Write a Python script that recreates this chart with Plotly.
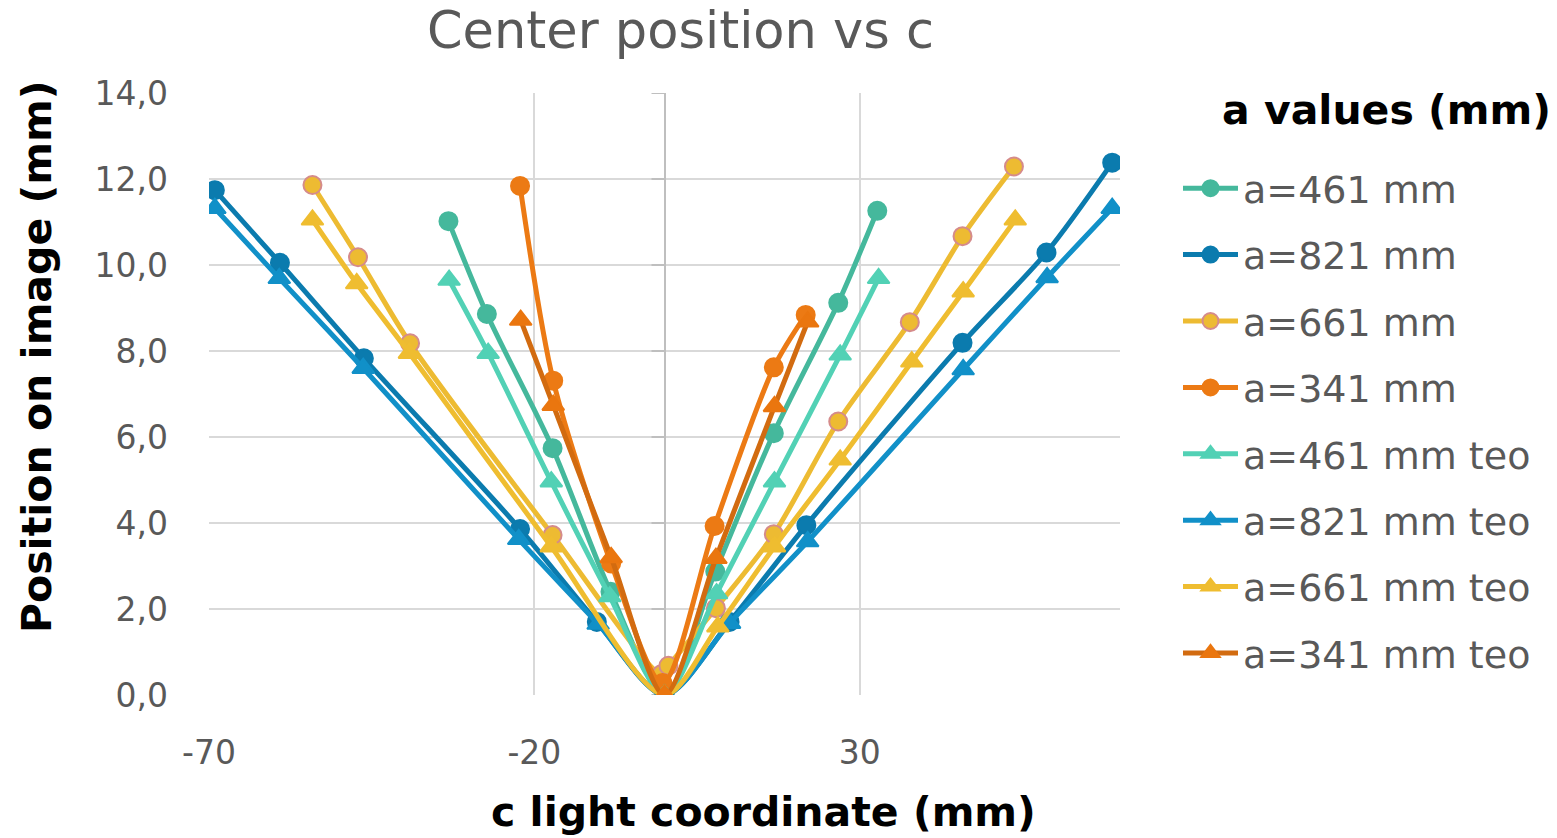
import plotly.graph_objects as go

# ---- data: light coordinate c (mm) vs centre position on image (mm) ----
c_461 = [-33.2, -27.3, -17.2, -8.3, 0.0, 7.8, 16.8, 26.7, 32.7]
p_461 = [11.02, 8.86, 5.74, 2.40, 0.0, 2.87, 6.09, 9.12, 11.26]

c_821 = [-69.1, -59.1, -46.2, -22.2, -10.4, 0.0, 10.0, 21.8, 45.8, 58.7, 68.8]
p_821 = [11.74, 10.05, 7.83, 3.86, 1.70, 0.0, 1.70, 3.95, 8.19, 10.29, 12.38]

c_661 = [-54.1, -47.1, -39.1, -17.2, -0.5, 0.6, 7.9, 16.8, 26.7, 37.7, 45.8, 53.7]
p_661 = [11.86, 10.18, 8.18, 3.72, 0.48, 0.68, 2.02, 3.74, 6.36, 8.67, 10.67, 12.29]

c_341 = [-22.2, -17.1, -8.2, -0.3, 7.7, 16.8, 21.7]
p_341 = [11.84, 7.31, 3.06, 0.28, 3.93, 7.62, 8.84]

# theoretical curves
c_461_teo = [-33.1, -27.1, -17.4, -8.4, 0.0, 8.0, 16.9, 27.0, 32.9]
p_461_teo = [9.65, 7.95, 4.96, 2.29, 0.0, 2.36, 4.96, 7.91, 9.69]

c_821_teo = [-69.1, -59.2, -46.3, -22.4, -10.2, 0.0, 10.0, 22.0, 45.9, 58.8, 68.8]
p_821_teo = [11.32, 9.69, 7.60, 3.62, 1.65, 0.0, 1.67, 3.57, 7.57, 9.71, 11.32]

c_661_teo = [-54.1, -47.3, -39.2, -17.4, 0.0, 8.2, 16.9, 27.0, 38.0, 45.9, 53.9]
p_661_teo = [11.05, 9.57, 7.95, 3.45, 0.0, 1.59, 3.45, 5.47, 7.75, 9.38, 11.05]

c_341_teo = [-22.1, -17.1, -8.2, 0.0, 7.9, 16.9, 22.0]
p_341_teo = [8.72, 6.74, 3.20, 0.0, 3.18, 6.71, 8.68]

x_tickvals = [-70, -20, 30]
x_ticktext = ["-70", "-20", "30"]
y_tickvals = [0, 2, 4, 6, 8, 10, 12, 14]

FONT = "DejaVu Sans"
GREY = "#595959"

series = [
    # name, x, y, line colour, marker symbol, marker fill, marker edge
    ("a=461 mm", c_461, p_461, "#45B89C", "circle", "#45B89C", "#45B89C"),
    ("a=821 mm", c_821, p_821, "#0B7BAE", "circle", "#0B7BAE", "#0B7BAE"),
    ("a=661 mm", c_661, p_661, "#EDBB32", "circle", "#EDBB32", "#D58B8B"),
    ("a=341 mm", c_341, p_341, "#EC7A14", "circle", "#EC7A14", "#EC7A14"),
    ("a=461 mm teo", c_461_teo, p_461_teo, "#52D1B5", "triangle-up", "#52D1B5", "#52D1B5"),
    ("a=821 mm teo", c_821_teo, p_821_teo, "#1190C8", "triangle-up", "#1190C8", "#1190C8"),
    ("a=661 mm teo", c_661_teo, p_661_teo, "#EFBD30", "triangle-up", "#EFBD30", "#EFBD30"),
    ("a=341 mm teo", c_341_teo, p_341_teo, "#D26B10", "triangle-up", "#EA760F", "#EA760F"),
]

fig = go.Figure()
for i, (name, xs, ys, lc, sym, mfill, medge) in enumerate(series):
    fig.add_trace(go.Scatter(
        x=xs, y=ys, name=name, mode="lines+markers",
        legendgroup=f"g{i}",
        line=dict(color=lc, width=5, shape="spline", smoothing=0.8),
        marker=dict(symbol=sym, size=18 if sym == "circle" else 19,
                    color=mfill, line=dict(color=medge, width=2)),
    ))

# tick marks on the vertical axis that crosses at c = 0
shapes = []
for v in y_tickvals:
    shapes.append(dict(
        type="line", xref="x", yref="y", xsizemode="pixel", xanchor=0,
        x0=-13, x1=0, y0=v, y1=v,
        line=dict(color="#BFBFBF", width=2), layer="between",
    ))


def px_x(px):
    return (px - 209) / 911


def px_y(py):
    return (695 - py) / 602


annotations = [
    dict(text="Center position vs c", x=px_x(680), y=px_y(30),
         xref="paper", yref="paper", xanchor="center", yanchor="middle",
         showarrow=False, font=dict(family=FONT, size=51, color=GREY)),
    dict(text="<b>Position on image (mm)</b>", textangle=-90,
         x=px_x(37), y=px_y(357), xref="paper", yref="paper",
         xanchor="center", yanchor="middle", showarrow=False,
         font=dict(family=FONT, size=41, color="#000000")),
    dict(text="<b>c light coordinate (mm)</b>",
         x=px_x(763), y=px_y(812), xref="paper", yref="paper",
         xanchor="center", yanchor="middle", showarrow=False,
         font=dict(family=FONT, size=41, color="#000000")),
    dict(text="<b>a values (mm)</b>",
         x=px_x(1386), y=px_y(110), xref="paper", yref="paper",
         xanchor="center", yanchor="middle", showarrow=False,
         font=dict(family=FONT, size=41, color="#000000")),
]

fig.update_layout(
    width=1557, height=838,
    margin=dict(l=209, r=437, t=93, b=143, pad=0),
    paper_bgcolor="white", plot_bgcolor="white",
    separators=",.",
    font=dict(family=FONT, color=GREY),
    showlegend=True,
    legend=dict(
        x=px_x(1178), y=px_y(157), xanchor="left", yanchor="top",
        font=dict(family=FONT, size=38, color=GREY),
        traceorder="grouped", tracegroupgap=14, itemwidth=55,
        bgcolor="rgba(0,0,0,0)", borderwidth=0,
    ),
    xaxis=dict(
        range=[-70, 70], tickvals=x_tickvals, ticktext=x_ticktext,
        showgrid=True, gridcolor="#D9D9D9", gridwidth=1.5,
        zeroline=True, zerolinecolor="#BFBFBF", zerolinewidth=2,
        showline=False, ticks="", ticklabelstandoff=35,
        tickfont=dict(family=FONT, size=33, color=GREY),
    ),
    yaxis=dict(
        range=[0, 14], tickvals=y_tickvals, tickformat=".1f",
        showgrid=True, gridcolor="#D9D9D9", gridwidth=1.5,
        zeroline=False, showline=False, ticks="", ticklabelstandoff=40,
        tickfont=dict(family=FONT, size=33, color=GREY),
    ),
    shapes=shapes,
    annotations=annotations,
)

fig.write_html("out.html")
